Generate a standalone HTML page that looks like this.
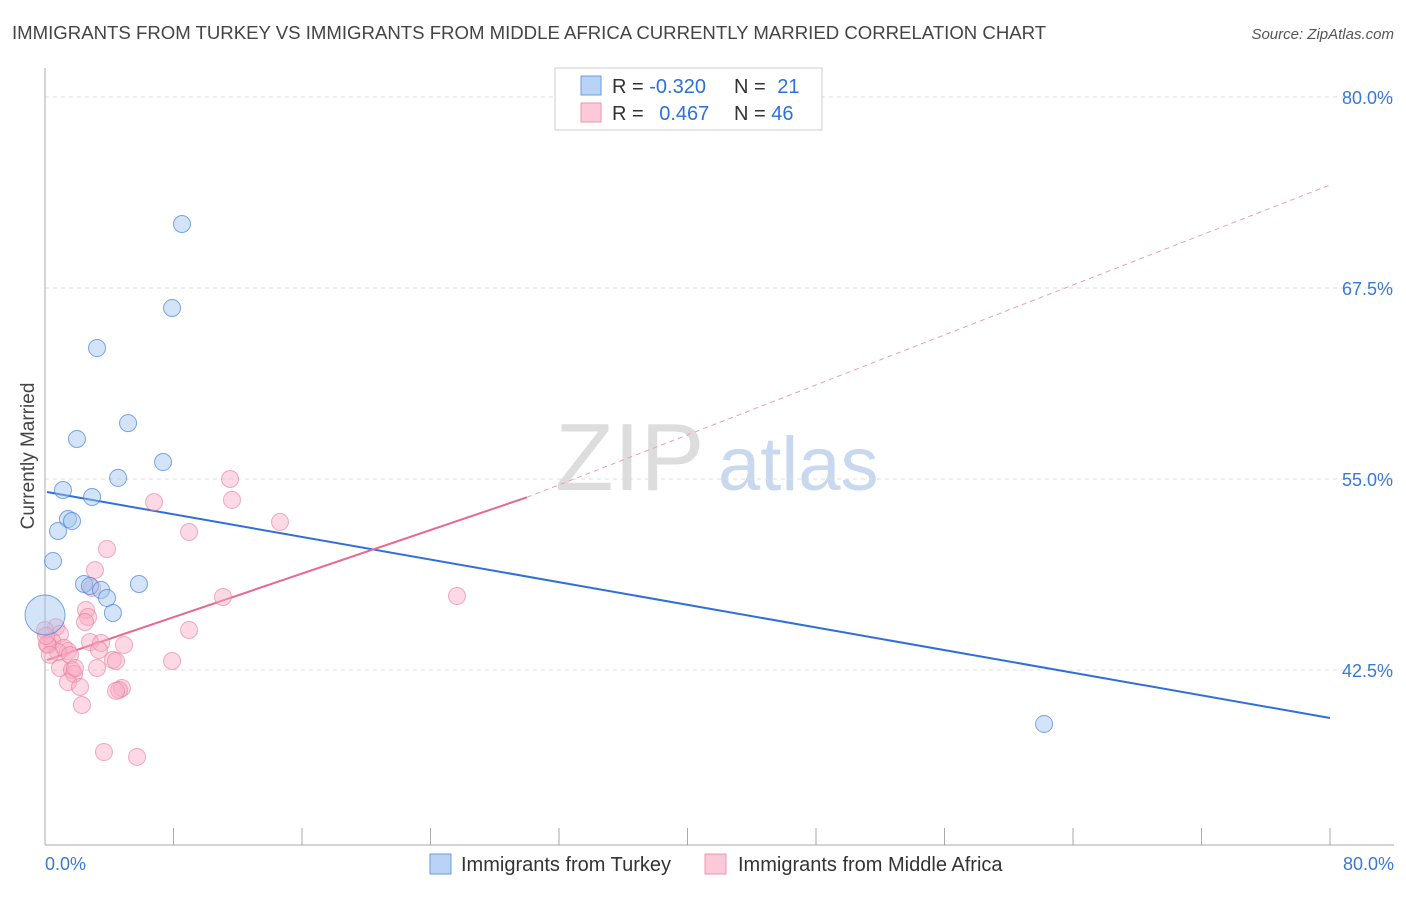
<!DOCTYPE html>
<html><head><meta charset="utf-8"><style>
body{margin:0;background:#fff;font-family:"Liberation Sans",sans-serif}
svg text{font-family:"Liberation Sans",sans-serif}
</style></head><body>
<svg id="chart" width="1406" height="892" xmlns="http://www.w3.org/2000/svg">
<text x="12" y="39" font-size="18.6" fill="#444">IMMIGRANTS FROM TURKEY VS IMMIGRANTS FROM MIDDLE AFRICA CURRENTLY MARRIED CORRELATION CHART</text>
<text x="1394" y="39" font-size="15" fill="#555" text-anchor="end" font-style="italic">Source: ZipAtlas.com</text>
<g>
<text x="555" y="490" font-size="96" fill="#ddd" font-family="Liberation Serif">ZIP</text>
<text x="718" y="490" font-size="76" fill="#c8d8ee">atlas</text>
</g>
<g id="grid"></g>
<g id="axes"></g>
<g id="lines"></g>
<g id="points"></g>
<text transform="translate(34,456) rotate(-90)" font-size="19" fill="#444" text-anchor="middle">Currently Married</text>
<g>
<rect x="555" y="68" width="267" height="62" fill="#fff" stroke="#ccc"/>
<rect x="581" y="76" width="20" height="19" fill="#b9d3f5" stroke="#6a9be0"/>
<rect x="581" y="103" width="20" height="19" fill="#fcc9d8" stroke="#ee94b0"/>
<text x="612" y="93" font-size="20" fill="#333">R = <tspan fill="#2f6fd8">-0.320</tspan></text>
<text x="734" y="93" font-size="20" fill="#333">N = <tspan fill="#2f6fd8" dx="6">21</tspan></text>
<text x="612" y="120" font-size="20" fill="#333">R = <tspan fill="#2f6fd8" dx="10">0.467</tspan></text>
<text x="734" y="120" font-size="20" fill="#333">N = <tspan fill="#2f6fd8">46</tspan></text>
</g>
<g>
<rect x="430" y="854" width="21" height="20" fill="#b9d3f5" stroke="#6a9be0"/>
<text x="461" y="871" font-size="20" fill="#333">Immigrants from Turkey</text>
<rect x="705" y="854" width="21" height="20" fill="#fcc9d8" stroke="#ee94b0"/>
<text x="738" y="871" font-size="20" fill="#333">Immigrants from Middle Africa</text>
</g>
</svg>
<script>
const yTicks=[80,67.5,55,42.5];
const xTickLabels=["0.0%","80.0%"];
const blueX=[8.53,7.91,3.24,5.17,1.99,7.35,4.55,1.12,2.93,1.43,1.68,0.81,0.50,2.43,2.80,3.49,3.86,5.85,4.23,0,62.20];
const blueY=[71.69,66.19,63.57,58.66,57.62,56.11,55.07,54.28,53.82,52.38,52.25,51.60,49.63,48.13,48.00,47.74,47.21,48.13,46.23,46.10,38.97];
const pinkX=[11.52,6.79,11.64,14.63,8.97,3.86,3.11,2.93,11.08,25.65,2.55,2.68,2.49,0.68,8.97,0,0.93,2.80,3.49,4.92,0.44,0.19,1.18,1.43,0.81,1.56,3.36,4.23,4.42,7.91,3.24,0.93,1.68,1.81,1.43,2.18,4.79,4.61,4.42,2.30,3.67,5.73,0.12,1.87,0.06,0.3];
const pinkY=[55.00,53.49,53.63,52.19,51.53,50.42,49.04,47.87,47.28,47.34,46.43,45.97,45.64,45.31,45.12,45.12,44.86,44.33,44.27,44.14,44.40,44.14,43.95,43.74,43.68,43.48,43.81,43.16,43.09,43.09,42.63,42.63,42.50,42.24,41.71,41.39,41.32,41.19,41.13,40.21,37.13,36.81,44.20,42.63,44.73,43.5];
const blueTrend=[[0.12,54.15],[80,39.36]];
const pinkTrend=[[0.12,43.15],[30,53.8],[80,74.24]];
const NS="http://www.w3.org/2000/svg";
const X=v=>45+v*16.0625, Y=v=>97+(80-v)*15.28;
function mk(t,a,p){const e=document.createElementNS(NS,t);for(const k in a)e.setAttribute(k,a[k]);document.getElementById(p).appendChild(e);return e;}
yTicks.forEach(t=>{
 const l=mk('line',{x1:45,x2:1394,y1:Y(t),y2:Y(t),stroke:'#ddd','stroke-dasharray':'4,4'},'grid');
 
 
 const tx=mk('text',{x:1393,y:Y(t)+7,'font-size':18,fill:'#3a78d8','text-anchor':'end'},'grid');
 tx.textContent=t.toFixed(1)+'%';
 
 
});
let ax=mk('line',{x1:45,x2:45,y1:68,y2:845,stroke:'#aaa'},'axes');


ax=mk('line',{x1:45,x2:1394,y1:845,y2:845,stroke:'#aaa'},'axes');


for(let i=0;i<=10;i++){const tk=mk('line',{x1:X(i*8),x2:X(i*8),y1:828,y2:845,stroke:'#aaa'},'axes');
 
 }
[[0,'start',45],[80,'end',1394]].forEach((d,i)=>{const t=mk('text',{x:d[2],y:870,'font-size':18,fill:'#3a78d8','text-anchor':d[1]},'axes');t.textContent=xTickLabels[i];
 
 });
let tl=mk('line',{x1:X(blueTrend[0][0]),y1:Y(blueTrend[0][1]),x2:X(blueTrend[1][0]),y2:Y(blueTrend[1][1]),stroke:'#2f6fd8','stroke-width':2},'lines');


tl=mk('line',{x1:X(pinkTrend[0][0]),y1:Y(pinkTrend[0][1]),x2:X(pinkTrend[1][0]),y2:Y(pinkTrend[1][1]),stroke:'#e8688f','stroke-width':2},'lines');


tl=mk('line',{x1:X(pinkTrend[1][0]),y1:Y(pinkTrend[1][1]),x2:X(pinkTrend[2][0]),y2:Y(pinkTrend[2][1]),stroke:'#e8a0b4','stroke-width':1,'stroke-dasharray':'5,4'},'lines');


pinkX.forEach((v,i)=>{const c=mk('circle',{cx:X(v),cy:Y(pinkY[i]),r:8.5,fill:'rgba(248,170,195,0.45)',stroke:'rgba(232,120,155,0.6)'},'points');
 
 });
blueX.forEach((v,i)=>{const c=mk('circle',{cx:X(v),cy:Y(blueY[i]),r:(i==19?20:8.5),fill:'rgba(160,195,240,0.45)',stroke:'rgba(70,130,220,0.7)'},'points');
 
 });
</script>
</body></html>
